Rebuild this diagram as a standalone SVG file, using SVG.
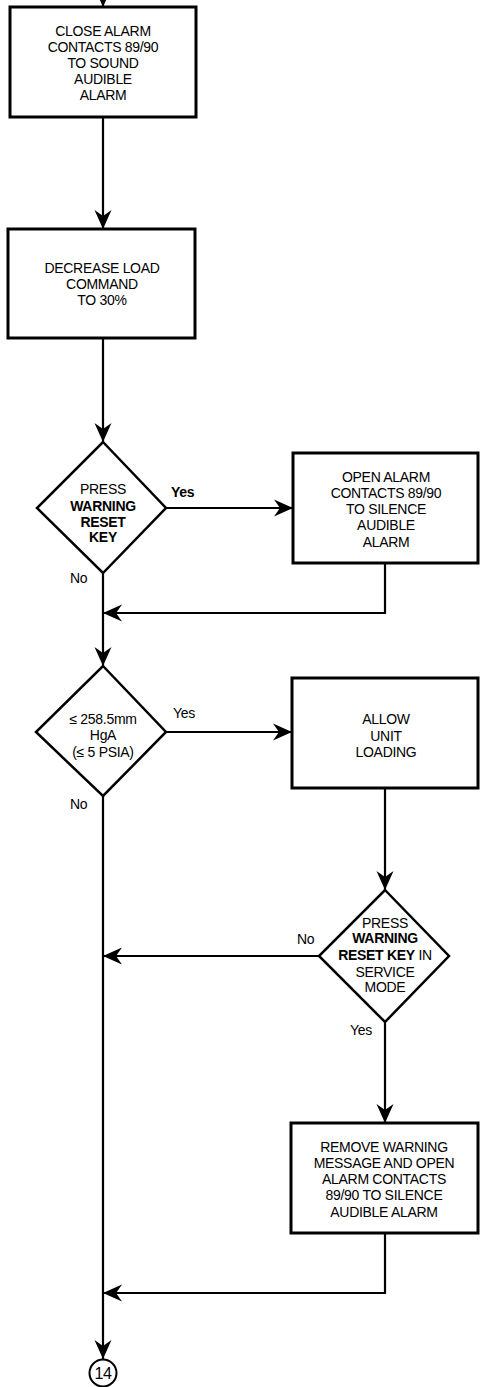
<svg xmlns="http://www.w3.org/2000/svg" width="480" height="1387" viewBox="0 0 480 1387">
<style>
.box{fill:#fff;stroke:#000;stroke-width:3}
.dia{fill:#fff;stroke:#000;stroke-width:2.5}
.ln{fill:none;stroke:#000;stroke-width:2.2}
text{font-family:"Liberation Sans",Arial,sans-serif;font-size:14px;letter-spacing:-0.3px;fill:#000;text-anchor:middle}
.b{font-weight:bold}
.lbl{text-anchor:start}
</style>
<defs>
<marker id="ah" viewBox="-20 -10 22 20" markerWidth="22" markerHeight="20" refX="0" refY="0" orient="auto" markerUnits="userSpaceOnUse">
<path d="M0,0 L-19,-8.5 L-13,0 L-19,8.5 Z" fill="#000"/>
</marker>
</defs>
<rect width="480" height="1387" fill="#fff"/>
<g id="connectors">
<path class="ln" d="M103,-10 V7" marker-end="url(#ah)"/>
<path class="ln" d="M103,117 V229" marker-end="url(#ah)"/>
<path class="ln" d="M103,338 V442" marker-end="url(#ah)"/>
<path class="ln" d="M166,508 H293" marker-end="url(#ah)"/>
<path class="ln" d="M385,563 V613 H103" marker-end="url(#ah)"/>
<path class="ln" d="M103,573 V666" marker-end="url(#ah)"/>
<path class="ln" d="M166,732 H292" marker-end="url(#ah)"/>
<path class="ln" d="M385,788 V890" marker-end="url(#ah)"/>
<path class="ln" d="M319,956 H103" marker-end="url(#ah)"/>
<path class="ln" d="M385,1022 V1123" marker-end="url(#ah)"/>
<path class="ln" d="M385,1233 V1293 H103" marker-end="url(#ah)"/>
<path class="ln" d="M103,796 V1359" marker-end="url(#ah)"/>
</g>
<g id="n1">
<rect class="box" x="10" y="7" width="186" height="110"/>
<text x="103" y="36">CLOSE ALARM</text>
<text x="103" y="52">CONTACTS 89/90</text>
<text x="103" y="68">TO SOUND</text>
<text x="103" y="84">AUDIBLE</text>
<text x="103" y="100">ALARM</text>
</g>
<g id="n2">
<rect class="box" x="8" y="229" width="187" height="109"/>
<text x="102" y="273">DECREASE LOAD</text>
<text x="102" y="289">COMMAND</text>
<text x="102" y="305">TO 30%</text>
</g>
<g id="d1">
<polygon class="dia" points="103,442 166,508 103,573 37,508"/>
<text x="103" y="494">PRESS</text>
<text x="103" y="511" class="b">WARNING</text>
<text x="103" y="527" class="b">RESET</text>
<text x="103" y="542" class="b">KEY</text>
<text x="171" y="497" class="lbl b">Yes</text>
<text x="70" y="583" class="lbl">No</text>
</g>
<g id="n3">
<rect class="box" x="293" y="453" width="185" height="110"/>
<text x="386" y="482">OPEN ALARM</text>
<text x="386" y="498">CONTACTS 89/90</text>
<text x="386" y="514">TO SILENCE</text>
<text x="386" y="530">AUDIBLE</text>
<text x="386" y="547">ALARM</text>
</g>
<g id="d2">
<polygon class="dia" points="103,666 166,732 103,796 36,732"/>
<text x="103" y="724">≤ 258.5mm</text>
<text x="103" y="740">HgA</text>
<text x="103" y="757">(≤ 5 PSIA)</text>
<text x="173" y="718" class="lbl">Yes</text>
<text x="70" y="809" class="lbl">No</text>
</g>
<g id="n4">
<rect class="box" x="292" y="678" width="186" height="110"/>
<text x="386" y="724">ALLOW</text>
<text x="386" y="741">UNIT</text>
<text x="386" y="757">LOADING</text>
</g>
<g id="d3">
<polygon class="dia" points="385,890 449,956 385,1022 319,956"/>
<text x="385" y="928">PRESS</text>
<text x="385" y="943" class="b">WARNING</text>
<text x="385" y="960"><tspan class="b">RESET KEY</tspan> IN</text>
<text x="385" y="977">SERVICE</text>
<text x="385" y="992">MODE</text>
<text x="297" y="944" class="lbl">No</text>
<text x="350" y="1035" class="lbl">Yes</text>
</g>
<g id="n5">
<rect class="box" x="291" y="1123" width="187" height="110"/>
<text x="384" y="1152">REMOVE WARNING</text>
<text x="384" y="1168">MESSAGE AND OPEN</text>
<text x="384" y="1184">ALARM CONTACTS</text>
<text x="384" y="1200">89/90 TO SILENCE</text>
<text x="384" y="1217">AUDIBLE ALARM</text>
</g>
<g id="c14">
<circle cx="103" cy="1373" r="13.5" fill="#fff" stroke="#000" stroke-width="2"/>
<text x="103" y="1379" style="font-size:16px;letter-spacing:-0.5px">14</text>
</g>
</svg>
